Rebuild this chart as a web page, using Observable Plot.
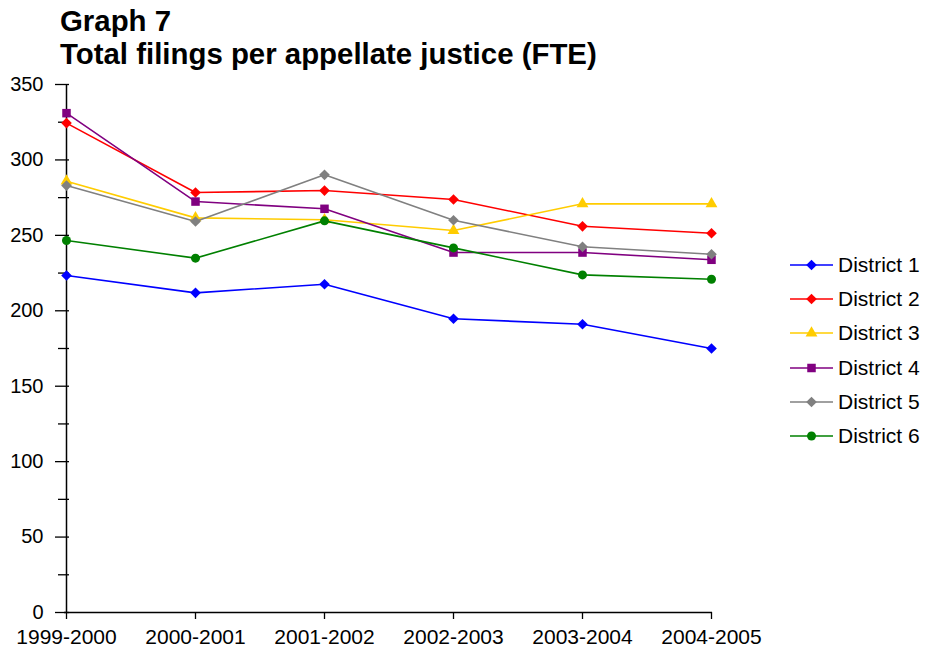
<!DOCTYPE html>
<html>
<head>
<meta charset="utf-8">
<script src="https://cdn.jsdelivr.net/npm/d3@7"></script>
<script src="https://cdn.jsdelivr.net/npm/@observablehq/plot@0.6"></script>
<style>
  html, body { margin: 0; padding: 0; background: white; }
  body { width: 926px; height: 649px; position: relative; overflow: hidden; font-family: "Liberation Sans", Arial, sans-serif; }
  #title { position: absolute; left: 60px; top: 4px; font-weight: bold; font-size: 29.4px; line-height: 33px; color: black; white-space: nowrap; }
  #chart svg { display: block; }
  #legend { position: absolute; left: 790px; top: 248px; font-size: 21px; color: black; }
  .row { display: flex; align-items: center; height: 34.2px; }
  .row svg { display: block; margin-right: 5px; }
</style>
</head>
<body>
<div id="chart"></div>
<div id="title">Graph 7<br>Total filings per appellate justice (FTE)</div>
<div id="legend"></div>
<script>
const years = ["1999-2000", "2000-2001", "2001-2002", "2002-2003", "2003-2004", "2004-2005"];
const districts = ["District 1", "District 2", "District 3", "District 4", "District 5", "District 6"];
const district1 = [223.4, 211.9, 217.6, 194.7, 191.1, 175.0];
const district2 = [324.4, 278.4, 279.7, 273.8, 256.0, 251.4];
const district3 = [285.9, 261.6, 260.3, 253.2, 270.9, 270.9];
const district4 = [331.0, 272.4, 267.6, 238.6, 238.6, 233.8];
const district5 = [283.0, 259.2, 290.1, 260.0, 242.4, 237.5];
const district6 = [246.6, 234.9, 259.6, 241.7, 223.8, 220.9];
const majorTicks = [0, 50, 100, 150, 200, 250, 300, 350];
const minorTicks = [25, 75, 125, 175, 225, 275, 325];

const colors = ["#0000FF", "#FF0000", "#FFCC00", "#800080", "#808080", "#008000"];
const symbols = ["diamond2", "diamond2", "triangle", "square", "diamond2", "circle"];
const radii = [4.8, 4.8, 4.4, 4.8, 4.8, 4.5];

const series = [district1, district2, district3, district4, district5, district6];
const rows = series.map((vals, i) => years.map((year, j) => ({district: districts[i], year, value: vals[j]})));

const seriesMarks = [];
rows.forEach((r, i) => {
  seriesMarks.push(Plot.line(r, {x: "year", y: "value", stroke: "district", strokeWidth: 1.6}));
  seriesMarks.push(Plot.dot(r, {x: "year", y: "value", fill: "district", symbol: () => symbols[i], r: radii[i], stroke: "none"}));
});

const uniq = symbols.filter((s, i, a) => a.indexOf(s) === i);

const chart = Plot.plot({
  width: 926,
  height: 649,
  marginTop: 84,
  marginBottom: 37,
  marginLeft: 64,
  marginRight: 214,
  style: {fontFamily: "'Liberation Sans', Arial, sans-serif", fontSize: "20px", color: "black", background: "white"},
  x: {type: "point", domain: years, padding: 0},
  y: {domain: [0, 350]},
  color: {domain: districts, range: colors},
  symbol: {domain: uniq, range: uniq},
  marks: [
    Plot.axisY(majorTicks, {tickSize: 14, dx: 5, tickFormat: () => "", label: null, strokeWidth: 1.3}),
    Plot.axisY(minorTicks, {tickSize: 11, dx: 5, tickFormat: () => "", label: null, strokeWidth: 1.3}),
    Plot.axisY(majorTicks, {tickSize: 0, tickPadding: 21, fontSize: 20, label: null}),
    Plot.axisX(years, {tickSize: 7, tickPadding: 10, fontSize: 21, label: null, strokeWidth: 1.3}),
    Plot.ruleX([years[0]], {stroke: "black", strokeWidth: 1.5}),
    Plot.ruleY([0], {stroke: "black", strokeWidth: 1.5}),
    ...seriesMarks
  ]
});
document.getElementById("chart").appendChild(chart);

// Legend
const legend = document.getElementById("legend");
const symMap = {diamond2: d3.symbolDiamond2, triangle: d3.symbolTriangle, square: d3.symbolSquare, circle: d3.symbolCircle};
districts.forEach((name, i) => {
  const row = document.createElement("div");
  row.className = "row";
  const sw = d3.create("svg").attr("width", 43).attr("height", 16);
  sw.append("line").attr("x1", 0).attr("x2", 43).attr("y1", 8).attr("y2", 8).attr("stroke", colors[i]).attr("stroke-width", 1.6);
  sw.append("path").attr("transform", "translate(21.5,8)")
    .attr("d", d3.symbol(symMap[symbols[i]], Math.PI * radii[i] * radii[i])())
    .attr("fill", colors[i]);
  row.appendChild(sw.node());
  const t = document.createElement("span");
  t.textContent = name;
  row.appendChild(t);
  legend.appendChild(row);
});
</script>
</body>
</html>
